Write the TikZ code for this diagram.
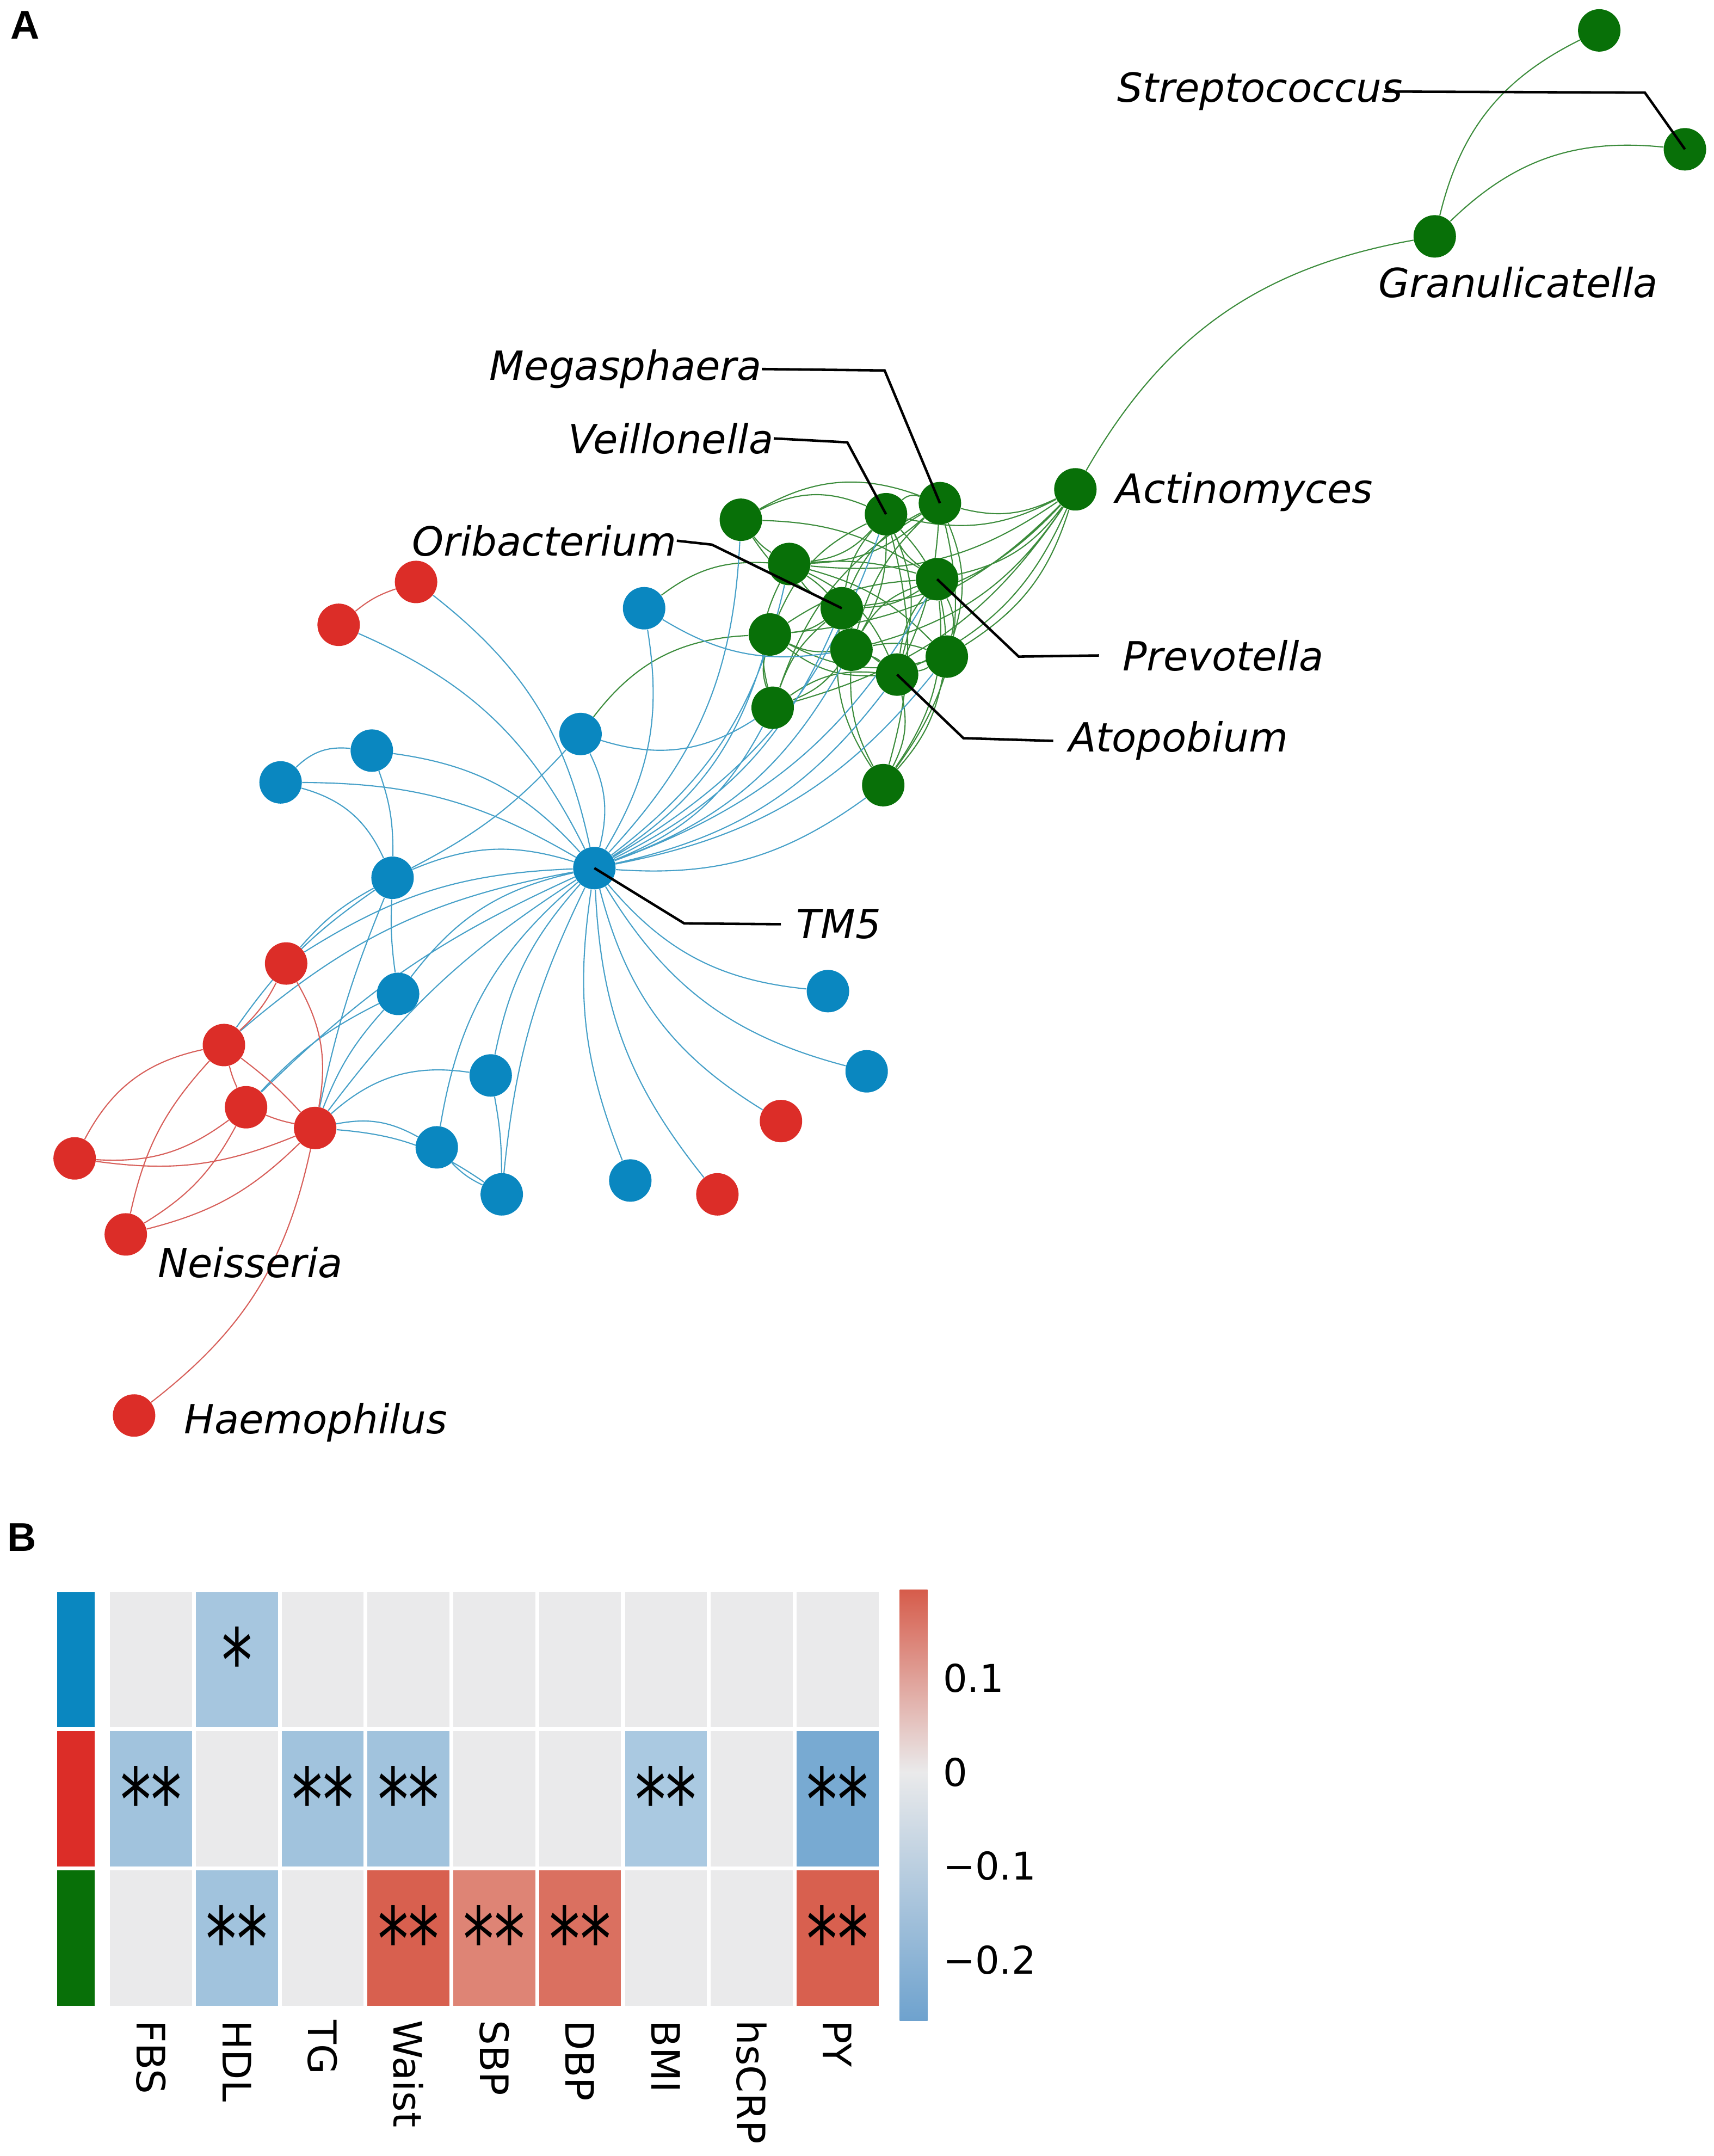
\documentclass[tikz,border=0pt]{standalone}
\usepackage{fontspec}
\setmainfont{DejaVu Sans}
\newfontfamily\panelfont{Liberation Sans}
\usepackage{graphicx}
\usepackage{tikz}
\usetikzlibrary{positioning, matrix, backgrounds}

\definecolor{nblue}{RGB}{10,135,192}
\definecolor{nred}{RGB}{220,45,40}
\definecolor{ngreen}{RGB}{8,112,8}
\definecolor{eblue}{RGB}{70,160,200}
\definecolor{ered}{RGB}{215,95,90}
\definecolor{egreen}{RGB}{60,140,60}
\definecolor{hzero}{RGB}{234,234,235}
\definecolor{hA}{RGB}{166,198,223}
\definecolor{hB}{RGB}{161,195,221}
\definecolor{hC}{RGB}{170,201,225}
\definecolor{hD}{RGB}{120,170,210}
\definecolor{hR1}{RGB}{216,96,79}
\definecolor{hR2}{RGB}{218,112,96}
\definecolor{hR3}{RGB}{222,132,117}
\definecolor{cbRed}{RGB}{214,92,75}
\definecolor{cbBlue}{RGB}{110,162,206}

\newcommand{\twostar}{\scalebox{0.7}[1]{**}}
\newcommand{\onestar}{\scalebox{0.7}[1]{*}}

\begin{document}
\begin{tikzpicture}[
    x=0.0254cm, y=-0.0254cm,
    gnode/.style={circle, fill=ngreen, inner sep=0pt, minimum size=0.78cm},
    bnode/.style={circle, fill=nblue, inner sep=0pt, minimum size=0.78cm},
    rnode/.style={circle, fill=nred, inner sep=0pt, minimum size=0.78cm},
    gedge/.style={draw=egreen, line width=0.6pt},
    bedge/.style={draw=eblue, line width=0.6pt},
    redge/.style={draw=ered, line width=0.6pt},
    lead/.style={draw=black, line width=1.3pt},
    taxon/.style={font=\fontsize{21}{25}\selectfont\itshape, inner sep=0pt, anchor=base west},
    panel/.style={font=\panelfont\bfseries\fontsize{21}{25}\selectfont, inner sep=0pt},
    heatmap/.style={
      matrix of nodes,
      nodes in empty cells,
      inner sep=0pt, outer sep=0pt,
      nodes={draw=white, line width=1.2pt, fill=hzero, anchor=center, inner sep=0pt,
             minimum width=1.549cm, minimum height=2.53cm, font=\fontsize{46}{46}\selectfont},
      column sep=-\pgflinewidth, row sep=-\pgflinewidth
    },
    sidebar/.style={
      matrix of nodes,
      nodes in empty cells,
      inner sep=0pt, outer sep=0pt,
      nodes={draw=white, line width=1.2pt, anchor=center, inner sep=0pt,
             minimum width=0.73cm, minimum height=2.53cm},
      row sep=-\pgflinewidth
    },
    collab/.style={font=\fontsize{20.5}{24}\selectfont, rotate=-90, anchor=west, inner sep=0pt},
    ticklab/.style={font=\fontsize{20}{24}\selectfont, anchor=west, inner sep=0pt}
  ]
  \useasboundingbox (0,0) rectangle (1240,1559.7);

  % panel A: network
  \node[panel] (pA) at (18,18) {A};

  \node[gnode] (gtop) at (1157,22) {};
  \node[gnode] (strep) at (1219,108) {};
  \node[gnode] (granu) at (1038,171) {};
  \node[gnode] (actino) at (778,354) {};
  \node[gnode] (mega) at (680,364) {};
  \node[gnode] (veil) at (641,372) {};
  \node[gnode] (g1) at (536,376) {};
  \node[gnode] (g2) at (571,408) {};
  \node[gnode] (prev) at (678,419) {};
  \node[gnode] (orib) at (609,440) {};
  \node[gnode] (g3) at (557,459) {};
  \node[gnode] (g4) at (616,470) {};
  \node[gnode] (g5) at (685,475) {};
  \node[gnode] (atop) at (649,488) {};
  \node[gnode] (g6) at (559,512) {};
  \node[gnode] (g7) at (639,568) {};

  \node[bnode] (b1) at (466,440) {};
  \node[bnode] (b2) at (420,531) {};
  \node[bnode] (b3) at (269,543) {};
  \node[bnode] (b4) at (203,566) {};
  \node[bnode] (b5) at (284,635) {};
  \node[bnode] (tm5) at (430,628) {};
  \node[bnode] (b6) at (288,719) {};
  \node[bnode] (b7) at (599,717) {};
  \node[bnode] (b8) at (627,775) {};
  \node[bnode] (b9) at (355,778) {};
  \node[bnode] (b10) at (316,830) {};
  \node[bnode] (b11) at (363,864) {};
  \node[bnode] (b12) at (456,854) {};

  \node[rnode] (r1) at (301,421) {};
  \node[rnode] (r2) at (245,452) {};
  \node[rnode] (r3) at (207,697) {};
  \node[rnode] (r4) at (162,756) {};
  \node[rnode] (r5) at (178,801) {};
  \node[rnode] (r6) at (228,816) {};
  \node[rnode] (r7) at (54,838) {};
  \node[rnode] (neis) at (91,893) {};
  \node[rnode] (haem) at (97,1024) {};
  \node[rnode] (r8) at (565,811) {};
  \node[rnode] (r9) at (519,864) {};

  \begin{scope}[on background layer]
    % green module
    \draw[gedge] (granu) to[bend left=25] (gtop) (granu) to[bend left=25] (strep)
                 (actino) to[bend left=25] (granu);
    \draw[gedge] (actino) to[bend left=20] (mega) (actino) to[bend left=20] (veil)
                 (actino) to[bend left=20] (prev) (actino) to[bend left=20] (orib)
                 (actino) to[bend left=20] (g2) (actino) to[bend left=20] (g3)
                 (actino) to[bend left=20] (g4) (actino) to[bend left=20] (atop)
                 (actino) to[bend left=20] (g5) (actino) to[bend left=20] (g6);
    \draw[gedge] (g1) to[bend left=25] (veil) (g1) to[bend left=25] (mega)
                 (g1) to[bend right=10] (g2) (g1) to[bend right=15] (orib)
                 (g1) to[bend left=15] (prev);
    \draw[gedge] (g2) to[bend right=20] (veil) (g2) to[bend right=20] (mega)
                 (g2) to[bend right=15] (orib) (g2) to[bend left=20] (g4)
                 (g2) to[bend left=20] (atop) (g2) to[bend left=15] (g5)
                 (g2) to[bend right=20] (g6) (g2) to[bend left=10] (prev);
    \draw[gedge] (veil) to[bend left=30] (mega) (veil) to[bend right=15] (orib)
                 (veil) to[bend right=20] (g3) (veil) to[bend left=15] (g4)
                 (veil) to[bend left=20] (atop) (veil) to[bend left=20] (g5)
                 (veil) to[bend left=15] (g7) (veil) to[bend right=15] (prev);
    \draw[gedge] (mega) to[bend right=20] (orib) (mega) to[bend right=15] (g4)
                 (mega) to[bend left=10] (atop) (mega) to[bend right=20] (g6)
                 (mega) to[bend left=25] (g7) (mega) to[bend left=20] (g5);
    \draw[gedge] (prev) to[bend left=15] (orib) (prev) to[bend right=15] (g3)
                 (prev) to[bend right=20] (g4) (prev) to[bend right=15] (atop)
                 (prev) to[bend left=20] (g5) (prev) to[bend left=20] (g7);
    \draw[gedge] (orib) to[bend left=15] (g3) (orib) to[bend left=15] (g4)
                 (orib) to[bend right=15] (atop) (orib) to[bend right=15] (g6)
                 (orib) to[bend right=20] (g7);
    \draw[gedge] (g3) to[bend right=15] (g4) (g3) to[bend right=20] (atop)
                 (g3) to[bend right=20] (g5) (g3) to[bend right=15] (g6);
    \draw[gedge] (g4) to[bend left=10] (atop) (g4) to[bend left=15] (g5)
                 (g4) to[bend right=15] (g7) (g4) to[bend left=15] (g6);
    \draw[gedge] (atop) to[bend right=10] (g5) (atop) to[bend left=20] (g7)
                 (atop) to[bend right=20] (g6) (g5) to[bend left=15] (g7);
    \draw[gedge] (b1) to[bend left=20] (g2) (b2) to[bend left=25] (g3);

    % blue module
    \draw[bedge] (tm5) to[bend right=20] (b1) (tm5) to[bend right=20] (b2)
                 (tm5) to[bend right=20] (b3) (tm5) to[bend right=15] (b4)
                 (tm5) to[bend right=20] (b5) (tm5) to[bend right=20] (b6)
                 (tm5) to[bend right=22] (b7) (tm5) to[bend right=22] (b8)
                 (tm5) to[bend right=15] (b9) (tm5) to[bend right=20] (b10)
                 (tm5) to[bend right=10] (b11) (tm5) to[bend right=15] (b12)
                 (tm5) to[bend right=20] (r1) (tm5) to[bend right=20] (r2)
                 (tm5) to[bend right=15] (r3) (tm5) to[bend right=15] (r4)
                 (tm5) to[bend right=10] (r5) (tm5) to[bend right=10] (r6)
                 (tm5) to[bend right=22] (r8) (tm5) to[bend right=18] (r9);
    \draw[bedge] (tm5) to[bend right=20] (g1) (tm5) to[bend right=20] (g2)
                 (tm5) to[bend right=20] (g3) (tm5) to[bend right=20] (g6)
                 (tm5) to[bend right=20] (orib) (tm5) to[bend right=20] (g4)
                 (tm5) to[bend right=20] (atop) (tm5) to[bend right=20] (g5)
                 (tm5) to[bend right=20] (g7) (tm5) to[bend right=20] (prev)
                 (tm5) to[bend right=20] (veil);
    \draw[bedge] (b1) to[bend right=20] (g4) (b2) to[bend right=25] (g6)
                 (b3) to[bend right=25] (b4) (b5) to[bend right=25] (b4)
                 (b5) to[bend right=10] (b3) (b5) to[bend right=5] (b6)
                 (b2) to[bend left=10] (b5) (b6) to[bend right=10] (r6)
                 (b6) to[bend right=10] (r5) (r3) to[bend left=10] (b5)
                 (r4) to[bend left=10] (b5) (r6) to[bend left=5] (b5)
                 (r6) to[bend left=25] (b9) (r6) to[bend left=20] (b10)
                 (r6) to[bend left=15] (b11) (b9) to[bend left=5] (b11)
                 (b10) to[bend right=10] (b11);

    % red module
    \draw[redge] (r2) to[bend left=10] (r1);
    \draw[redge] (r3) to[bend left=10] (r4) (r3) to[bend left=20] (r6)
                 (r4) to[bend right=5] (r5) (r4) to[bend left=5] (r6)
                 (r5) to[bend right=5] (r6) (r4) to[bend right=25] (r7)
                 (r4) to[bend right=15] (neis) (r5) to[bend left=20] (r7)
                 (r6) to[bend left=15] (r7) (r5) to[bend left=15] (neis)
                 (r6) to[bend left=15] (neis) (r6) to[bend left=20] (haem);
  \end{scope}

  % labels and leader lines
  \node[taxon] (lStrep) at (808,74) {Streptococcus};
  \node[taxon] (lGranu) at (997,215) {Granulicatella};
  \node[taxon] (lMega) at (354,275) {Megasphaera};
  \node[taxon] (lVeil) at (411,328) {Veillonella};
  \node[taxon] (lActino) at (807,364) {Actinomyces};
  \node[taxon] (lOrib) at (298,402) {Oribacterium};
  \node[taxon] (lPrev) at (812,485) {Prevotella};
  \node[taxon] (lAtop) at (773,544) {Atopobium};
  \node[taxon] (lTM) at (576,679) {TM5};
  \node[taxon] (lNeis) at (114,924) {Neisseria};
  \node[taxon] (lHaem) at (133,1037) {Haemophilus};

  \coordinate (kStrep) at (1190,67);
  \coordinate (kMega) at (640,268);
  \coordinate (kVeil) at (613,320);
  \coordinate (kOrib) at (515,394);
  \coordinate (kPrev) at (737,475);
  \coordinate (kAtop) at (697,534);
  \coordinate (kTM) at (495,668);

  \draw[lead] ([xshift=-0.35cm]lStrep.east) -- (kStrep) -- (strep.center);
  \draw[lead] (lMega.east) -- (kMega) -- (mega.center);
  \draw[lead] (lVeil.east) -- (kVeil) -- (veil.center);
  \draw[lead] (lOrib.east) -- (kOrib) -- (orib.center);
  \draw[lead] (prev.center) -- (kPrev) -- ([xshift=-0.43cm]lPrev.west);
  \draw[lead] (atop.center) -- (kAtop) -- ([xshift=-0.28cm]lAtop.west);
  \draw[lead] (tm5.center) -- (kTM) -- ([xshift=-0.28cm]lTM.west);

  % panel B: heatmap
  \node[panel] (pB) at (16,1112) {B};

  \matrix (heat) [heatmap, anchor=north west] at (78,1150) {
    & |[fill=hA]| \onestar & & & & & & & \\
    |[fill=hB]| \twostar & & |[fill=hB]| \twostar & |[fill=hB]| \twostar & & & |[fill=hC]| \twostar & & |[fill=hD]| \twostar \\
    & |[fill=hB]| \twostar & & |[fill=hR1]| \twostar & |[fill=hR3]| \twostar & |[fill=hR2]| \twostar & & & |[fill=hR1]| \twostar \\
  };
  \matrix (side) [sidebar, left=0.2cm of heat] {
    |[fill=nblue]| \\
    |[fill=nred]| \\
    |[fill=ngreen]| \\
  };

  \node[collab] (cFBS) at ([yshift=-0.24cm]heat-3-1.south) {FBS};
  \node[collab] (cHDL) at ([yshift=-0.24cm]heat-3-2.south) {HDL};
  \node[collab] (cTG) at ([yshift=-0.24cm]heat-3-3.south) {TG};
  \node[collab] (cWaist) at ([yshift=-0.24cm]heat-3-4.south) {Waist};
  \node[collab] (cSBP) at ([yshift=-0.24cm]heat-3-5.south) {SBP};
  \node[collab] (cDBP) at ([yshift=-0.24cm]heat-3-6.south) {DBP};
  \node[collab] (cBMI) at ([yshift=-0.24cm]heat-3-7.south) {BMI};
  \node[collab] (cCRP) at ([yshift=-0.24cm]heat-3-8.south) {hsCRP};
  \node[collab] (cPY) at ([yshift=-0.24cm]heat-3-9.south) {PY};

  % colour bar
  \shade[top color=cbRed, bottom color=hzero] (651,1150) rectangle (671,1282);
  \shade[top color=hzero, bottom color=cbBlue] (651,1282) rectangle (671,1462);
  \node[ticklab] (t1) at (682,1214) {0.1};
  \node[ticklab] (t0) at (682,1282) {0};
  \node[ticklab] (tm1) at (682,1350) {−0.1};
  \node[ticklab] (tm2) at (682,1418) {−0.2};
\end{tikzpicture}
\end{document}
